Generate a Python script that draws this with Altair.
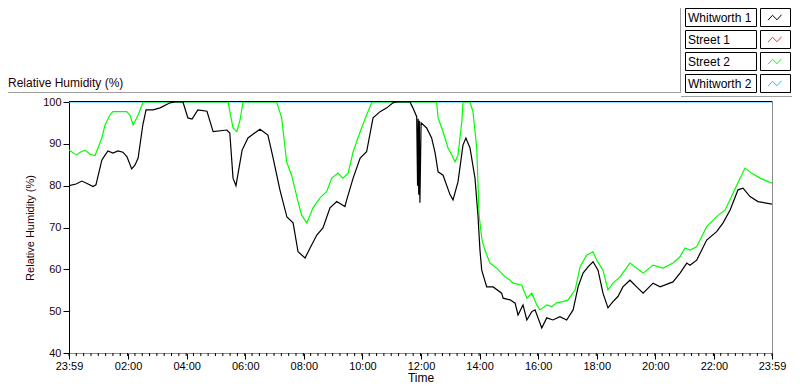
import altair as alt
import pandas as pd
from datetime import datetime, timedelta

# ---------------- data (hours after 23:59 start, relative humidity %) ----------------
START = datetime(2020, 1, 1, 23, 59)

w1_hours = [0.00, 0.24, 0.44, 0.65, 0.82, 0.92, 1.12, 1.23, 1.33, 1.50, 1.67, 1.84, 1.98,
            2.14, 2.25, 2.36, 2.52, 2.63, 2.87, 3.11, 3.45, 3.62, 3.89, 4.06, 4.20, 4.40,
            4.71, 4.92, 5.39, 5.49, 5.60, 5.70, 5.91, 6.11, 6.52, 6.79, 6.96, 7.20, 7.44,
            7.65, 7.82, 8.06, 8.23, 8.46, 8.67, 8.91, 9.14, 9.42, 9.48, 9.70, 9.94, 10.16,
            10.38, 10.62, 10.85, 11.06, 11.19, 11.64, 11.74, 11.87, 11.90, 11.92, 11.94,
            11.96, 11.98, 12.02, 12.21, 12.38, 12.50, 12.60, 12.77, 13.01, 13.11, 13.28,
            13.45, 13.55, 13.69, 13.86, 13.96, 14.03, 14.09, 14.26, 14.48, 14.77, 14.82,
            15.06, 15.23, 15.33, 15.50, 15.63, 15.80, 15.91, 16.14, 16.31, 16.52, 16.76,
            16.99, 17.21, 17.38, 17.55, 17.72, 17.89, 18.06, 18.23, 18.40, 18.57, 18.74,
            18.91, 19.15, 19.38, 19.60, 19.94, 20.18, 20.62, 20.86, 21.09, 21.20, 21.43,
            21.77, 22.11, 22.33, 22.57, 22.84, 23.01, 23.25, 23.52, 24.00]
w1_values = [80.0, 80.4, 81.1, 80.4, 79.8, 80.2, 86.1, 87.3, 88.3, 87.8, 88.3, 88.0, 86.9,
             84.0, 84.9, 86.6, 94.5, 98.1, 98.1, 98.6, 99.8, 100.0, 100.0, 96.2, 95.9, 98.1,
             97.8, 92.9, 93.3, 92.6, 81.8, 80.0, 88.5, 91.4, 93.5, 92.1, 86.9, 79.0, 72.5,
             71.1, 64.2, 62.7, 65.1, 68.2, 69.9, 74.7, 76.2, 75.0, 76.6, 81.8, 86.6, 88.1,
             96.2, 97.7, 98.6, 99.8, 100.0, 100.0, 98.6, 96.5, 80.0, 96.0, 77.8,
             95.5, 75.9, 95.0, 93.8, 91.4, 87.8, 83.3, 82.5, 77.8, 76.6, 80.9,
             89.7, 91.4, 89.0, 81.8, 73.0, 64.6, 59.8, 55.8, 55.8, 54.3, 53.1,
             52.7, 51.9, 49.1, 51.5, 47.9, 49.9, 50.3, 46.0, 48.4, 47.9, 48.7,
             47.9, 50.3, 55.8, 59.1, 60.6, 61.8, 59.8, 54.3, 50.8, 52.3, 53.5,
             55.8, 57.4, 55.8, 54.3, 56.7, 55.8, 57.0, 59.1, 61.5, 61.0, 62.2,
             67.0, 69.0, 71.1, 74.2, 79.0, 79.4, 77.4, 76.2, 75.6]

s2_hours = [0.00, 0.26, 0.38, 0.55, 0.72, 0.89, 1.12, 1.23, 1.40, 1.50, 1.97, 2.08, 2.19,
            2.36, 2.53, 5.43, 5.60, 5.73, 5.84, 5.94, 7.09, 7.26, 7.43, 7.60, 7.82, 7.94,
            8.12, 8.33, 8.57, 8.80, 8.97, 9.18, 9.35, 9.53, 9.70, 9.94, 10.16, 10.33, 10.38,
            12.55, 12.60, 12.77, 12.94, 13.07, 13.18, 13.28, 13.41, 13.45, 13.69, 13.79,
            13.92, 14.00, 14.10, 14.20, 14.37, 14.60, 14.89, 15.06, 15.16, 15.46, 15.63,
            15.80, 15.97, 16.08, 16.31, 16.48, 16.65, 16.87, 17.04, 17.28, 17.45, 17.67,
            17.89, 18.02, 18.23, 18.40, 18.57, 18.81, 19.15, 19.60, 19.94, 20.28, 20.62,
            20.86, 21.03, 21.20, 21.43, 21.77, 22.11, 22.40, 22.67, 22.91, 23.08, 23.30,
            23.59, 24.00]
s2_values = [88.5, 87.3, 88.0, 88.5, 87.5, 87.2, 91.4, 94.5, 96.9, 97.7, 97.7, 96.9, 94.5,
             96.9, 100.0, 100.0, 93.8, 92.9, 95.7, 100.0, 100.0, 96.2, 85.7, 82.5, 76.2, 73.0,
             71.1, 74.7, 77.1, 78.6, 81.8, 83.0, 81.8, 83.0, 88.1, 92.9, 96.9, 99.8, 100.0,
             100.0, 96.2, 92.9, 89.0, 87.3, 85.7, 87.3, 95.3, 100.0, 100.0, 97.7,
             89.0, 73.0, 67.0, 64.6, 61.5, 60.3, 58.2, 57.4, 56.7, 56.2, 53.1,
             54.3, 51.5, 50.3, 51.5, 51.1, 52.0, 52.3, 52.7, 55.1, 60.6, 63.4,
             64.2, 62.2, 59.8, 55.1, 56.7, 58.2, 61.5, 59.1, 61.0, 60.3, 61.5,
             63.0, 65.1, 64.6, 65.4, 70.2, 72.6, 74.2, 78.2, 81.8, 84.2, 83.0,
             81.8, 80.6]

w2_hours = [0.0, 24.0]
w2_values = [100.0, 100.0]

s1_hours = []
s1_values = []

series_names = ["Whitworth 1", "Street 1", "Street 2", "Whitworth 2"]
series_colors = ["#000000", "#ff3030", "#00ff00", "#33bbff"]

y_ticks = [40, 50, 60, 70, 80, 90, 100]
x_tick_hours = [0, 2, 4, 6, 8, 10, 12, 14, 16, 18, 20, 22, 24]

# ---------------- helpers ----------------
def series_df(hours, values):
    return pd.DataFrame({"time": [START + timedelta(hours=h) for h in hours],
                         "rh": values})

def dt(d):
    return alt.DateTime(year=d.year, month=d.month, date=d.day, hours=d.hour, minutes=d.minute)

END = START + timedelta(hours=24)
major_ticks = [START] + [datetime(2020, 1, 2, h, 0) for h in x_tick_hours[1:-1]] + [END]
minor_ticks = pd.date_range(START, END, periods=24 * 4 + 1)

FONT = "Liberation Sans"
W, H = 703, 251
TXT = "#2a0000"
LX = -7  # legend horizontal shift

xscale = alt.Scale(domain=[dt(START), dt(END)], nice=False)
yscale = alt.Scale(domain=[40, 100], nice=False, zero=False)

x_axis = alt.Axis(values=[dt(d) for d in major_ticks], format="%H:%M", title="Time",
                  grid=False, tickSize=6, tickColor="#000000", domainColor="#8c8c8c",
                  labelPadding=1, labelFont=FONT, labelFontSize=11, labelColor="#000000",
                  titleFont=FONT, titleFontSize=12, titleFontWeight="normal",
                  titleColor="#000000", titlePadding=1, labelFlush=False)
y_axis = alt.Axis(values=y_ticks, title="Relative Humidity (%)", grid=False, tickSize=6,
                  tickColor="#000000", domainColor="#000000", labelPadding=2,
                  labelFont=FONT, labelFontSize=11, labelColor=TXT,
                  titleFont=FONT, titleFontSize=11, titleFontWeight="normal",
                  titleColor=TXT, titlePadding=7)

def line_layer(hours, values, color):
    return alt.Chart(series_df(hours, values)).mark_line(
        color=color, strokeWidth=1.2, clip=True, interpolate="linear"
    ).encode(x=alt.X("time:T", scale=xscale, axis=x_axis),
             y=alt.Y("rh:Q", scale=yscale, axis=y_axis))

layers = []
layers.append(line_layer(w2_hours, w2_values, series_colors[3]))
if s1_hours:
    layers.append(line_layer(s1_hours, s1_values, series_colors[1]))
layers.append(line_layer(s2_hours, s2_values, series_colors[2]))
layers.append(line_layer(w1_hours, w1_values, series_colors[0]))

# minor ticks on the x axis
minor = alt.Chart(pd.DataFrame({"time": minor_ticks})).mark_rule(
    color="#000000", strokeWidth=1
).encode(x=alt.X("time:T", scale=xscale), y=alt.value(H), y2=alt.value(H + 3))
layers.append(minor)

# frame: top black, right grey
one = pd.DataFrame({"k": [0]})
layers.append(alt.Chart(one).mark_rule(color="#000000").encode(
    x=alt.value(0), x2=alt.value(W), y=alt.value(-0.5)))
layers.append(alt.Chart(one).mark_rule(color="#8c8c8c").encode(
    x=alt.value(W + 0.5), y=alt.value(-1), y2=alt.value(H)))

# panel separators
layers.append(alt.Chart(one).mark_rule(color="#a0a0a0").encode(
    x=alt.value(-61), x2=alt.value(619 + LX), y=alt.value(-9.5)))
layers.append(alt.Chart(one).mark_rule(color="#a0a0a0").encode(
    x=alt.value(618.5 + LX), y=alt.value(-94), y2=alt.value(-9)))
layers.append(alt.Chart(one).mark_rule(color="#a0a0a0").encode(
    x=alt.value(619 + LX), x2=alt.value(731), y=alt.value(-5.5)))

# chart title at top-left
layers.append(alt.Chart(pd.DataFrame({"t": ["Relative Humidity (%)"]})).mark_text(
    align="left", baseline="middle", font=FONT, fontSize=12, color=TXT
).encode(x=alt.value(-61), y=alt.value(-19), text="t:N"))

# custom legend (label box + swatch box with zig-zag)
row_tops = [-94, -72, -50, -28]
ROW_H = 18
zig = "M-1,0.39L-0.36,-0.32L0.29,0.32L0.93,-0.39"
for name, color, top in zip(series_names, series_colors, row_tops):
    d = pd.DataFrame({"name": [name], "color": [color]})
    base = alt.Chart(d)
    layers.append(base.mark_rect(fill="white", stroke="#000000", strokeWidth=1).encode(
        x=alt.value(623.5 + LX), x2=alt.value(694.5 + LX), y=alt.value(top + 0.5),
        y2=alt.value(top + ROW_H + 0.5)))
    layers.append(base.mark_rect(fill="white", stroke="#000000", strokeWidth=1).encode(
        x=alt.value(698.5 + LX), x2=alt.value(728.5 + LX), y=alt.value(top + 0.5),
        y2=alt.value(top + ROW_H + 0.5)))
    layers.append(base.mark_text(align="left", baseline="middle", font=FONT, fontSize=12,
                                 color="#000000").encode(
        x=alt.value(626 + LX), y=alt.value(top + ROW_H / 2 + 1), text="name:N"))
    layers.append(base.mark_point(shape=zig, filled=False, size=196, strokeWidth=1, opacity=1).encode(
        x=alt.value(713 + LX), y=alt.value(top + ROW_H / 2 + 0.5),
        stroke=alt.Color("color:N", scale=None)))

chart = alt.layer(*layers).properties(
    width=W, height=H,
    padding={"left": 61, "top": 94, "right": 20, "bottom": 31},
    autosize=alt.AutoSizeParams(type="none"),
    background="white",
).configure_view(stroke=None)

chart.save("out.html", embed_options={"renderer": "svg", "actions": False})
